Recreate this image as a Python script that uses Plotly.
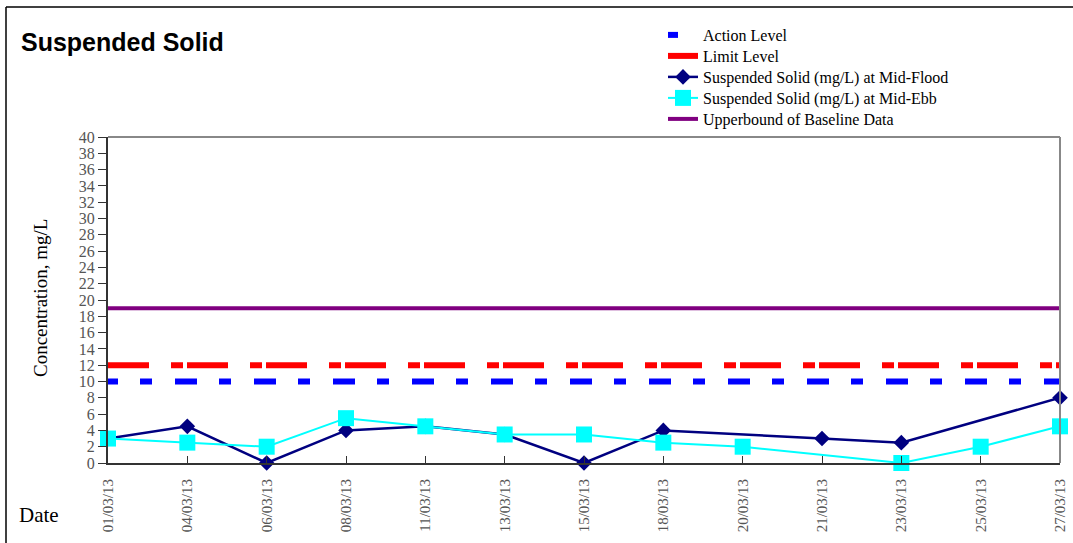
import plotly.graph_objects as go

# ---------------- data ----------------
dates = ["01/03/13", "04/03/13", "06/03/13", "08/03/13", "11/03/13", "13/03/13",
         "15/03/13", "18/03/13", "20/03/13", "21/03/13", "23/03/13", "25/03/13", "27/03/13"]
mid_flood = [3, 4.5, 0, 4, 4.5, 3.5, 0, 4, None, 3, 2.5, None, 8]
mid_ebb = [3, 2.5, 2, 5.5, 4.5, 3.5, 3.5, 2.5, 2, None, 0, 2, 4.5]
action_level = 10
limit_level = 12
baseline_upper = 19
y_ticks = list(range(0, 41, 2))

# ---------------- styles ----------------
SERIF = "Liberation Serif"
blue_dash = "10px,22px," + ",".join(["12px,23px,22px,22px"] * 13)
red_dash = "41px,22px,12px,4px"

PL, PR, PT, PB = 108, 1060, 137, 463   # plot area in pixels
W, H = 1073, 543


def px_x(x):
    return (x - PL) / (PR - PL)


def px_y(y):
    return (PB - y) / (PB - PT)


legend_rows = [35, 56, 77, 98, 119]
legend_names = ["legend", "legend2", "legend3", "legend4", "legend5"]

fig = go.Figure()
fig.add_trace(go.Scatter(x=dates, y=[action_level] * len(dates), mode="lines",
                         name="Action Level", legend="legend",
                         line=dict(color="#0000FF", width=6, dash=blue_dash)))
fig.add_trace(go.Scatter(x=dates, y=[limit_level] * len(dates), mode="lines",
                         name="Limit Level", legend="legend2",
                         line=dict(color="#FF0000", width=6, dash=red_dash)))
fig.add_trace(go.Scatter(x=dates, y=mid_flood, mode="lines+markers", connectgaps=True,
                         name="Suspended Solid (mg/L) at Mid-Flood", legend="legend3",
                         line=dict(color="#000080", width=2.5),
                         marker=dict(symbol="diamond", size=12, color="#000080"),
                         cliponaxis=False))
fig.add_trace(go.Scatter(x=dates, y=mid_ebb, mode="lines+markers", connectgaps=True,
                         name="Suspended Solid (mg/L) at Mid-Ebb", legend="legend4",
                         line=dict(color="#00FFFF", width=2),
                         marker=dict(symbol="square", size=16, color="#00FFFF"),
                         cliponaxis=False))
fig.add_trace(go.Scatter(x=dates, y=[baseline_upper] * len(dates), mode="lines",
                         name="Upperbound of Baseline Data", legend="legend5",
                         line=dict(color="#800080", width=4)))

legend_layout = {}
for name, row in zip(legend_names, legend_rows):
    legend_layout[name] = dict(x=px_x(663), y=px_y(row), xanchor="left", yanchor="middle",
                               font=dict(family=SERIF, size=16, color="#000000"),
                               bgcolor="rgba(0,0,0,0)", itemwidth=30)

fig.update_layout(
    width=W, height=H,
    margin=dict(l=PL, r=W - PR, t=PT, b=H - PB, autoexpand=False),
    paper_bgcolor="white", plot_bgcolor="white",
    showlegend=True,
    xaxis=dict(type="category", range=[0, len(dates) - 1], tickangle=-90,
               showgrid=False, zeroline=False,
               showline=True, linecolor="#333333", linewidth=2,
               ticks="inside", ticklen=7, tickcolor="#333333",
               ticklabelstandoff=8,
               tickfont=dict(family=SERIF, size=15, color="#555555")),
    yaxis=dict(range=[0, 40], tickmode="array", tickvals=y_ticks,
               ticktext=[str(v) for v in y_ticks],
               showgrid=False, zeroline=False,
               showline=True, linecolor="#333333", linewidth=2,
               ticks="outside", ticklen=8, tickcolor="#333333",
               tickfont=dict(family=SERIF, size=16, color="#555555")),
    shapes=[
        dict(type="line", xref="paper", yref="paper", x0=0, x1=1, y0=1, y1=1,
             line=dict(color="#888888", width=2)),
        dict(type="line", xref="paper", yref="paper", x0=1, x1=1, y0=0, y1=1,
             line=dict(color="#888888", width=2)),
        dict(type="line", xref="paper", yref="paper",
             x0=px_x(6), x1=px_x(6), y0=px_y(H + 5), y1=px_y(7),
             line=dict(color="#000000", width=1.5)),
        dict(type="line", xref="paper", yref="paper",
             x0=px_x(6), x1=px_x(W + 5), y0=px_y(7), y1=px_y(7),
             line=dict(color="#000000", width=1.5)),
    ],
    annotations=[
        dict(text="<b>Suspended Solid</b>", xref="paper", yref="paper",
             x=px_x(19), y=px_y(42), xanchor="left", yanchor="middle",
             showarrow=False, font=dict(family="Liberation Sans", size=25, color="#000000")),
        dict(text="Concentration, mg/L", xref="paper", yref="paper",
             x=px_x(40), y=px_y(298), xanchor="center", yanchor="middle",
             textangle=-90, showarrow=False,
             font=dict(family=SERIF, size=19, color="#000000")),
        dict(text="Date", xref="paper", yref="paper",
             x=px_x(39), y=px_y(515), xanchor="center", yanchor="middle",
             showarrow=False, font=dict(family=SERIF, size=21, color="#000000")),
    ],
    **legend_layout,
)

fig.write_html("out.html", config={"displayModeBar": False},
               post_script="document.body.style.margin='0';document.body.style.overflow='hidden';")
